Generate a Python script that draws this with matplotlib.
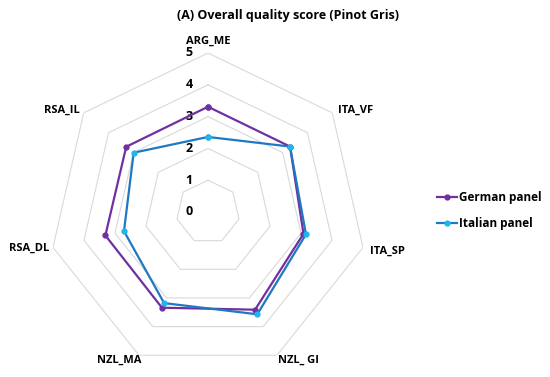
import numpy as np
import matplotlib
matplotlib.use("Agg")
import matplotlib.pyplot as plt
from matplotlib.transforms import ScaledTranslation

categories = ["ARG_ME", "ITA_VF", "ITA_SP", "NZL_ GI", "NZL_MA", "RSA_DL", "RSA_IL"]
german = [3.31, 3.30, 3.08, 3.41, 3.34, 3.31, 3.29]
italian = [2.36, 3.30, 3.16, 3.57, 3.18, 2.71, 2.99]
rticks = [0, 1, 2, 3, 4, 5]
title = "(A) Overall quality score (Pinot Gris)"

# label offsets (pixels) from the outer ring vertex
label_off = [(0, 12), (23, 3), (24, -4), (22, -5), (-20, -5), (-24, -1), (-22, 3)]

plt.rcParams['font.family'] = ['Open Sans', 'DejaVu Sans']

fig = plt.figure(figsize=(5.5, 3.77), dpi=100)
W, H = 550, 377
cx, cy, R = 208, 212, 159
ax = fig.add_axes([(cx - R) / W, (H - cy - R) / H, 2 * R / W, 2 * R / H], projection='polar')
ax.set_theta_offset(np.pi / 2)
ax.set_theta_direction(-1)
ax.set_ylim(0, 5)
ax.grid(False)
ax.spines['polar'].set_visible(False)
ax.set_yticks([])
ax.set_xticks([])

n = len(categories)
theta = np.arange(n) * 2 * np.pi / n
tc = np.append(theta, theta[0])

for r in rticks[1:]:
    ax.plot(tc, [r] * (n + 1), color='#D9D9D9', lw=0.8, zorder=1)

off = ScaledTranslation(-19 / 100, 0, fig.dpi_scale_trans)
for r in rticks:
    ax.text(0, r, str(r), transform=ax.transData + off, ha='center', va='center',
            fontsize=9, fontweight='bold', color='black')

for t, lab, (dx, dy) in zip(theta, categories, label_off):
    tr = ax.transData + ScaledTranslation(dx / 100, dy / 100, fig.dpi_scale_trans)
    ax.text(t, rticks[-1], lab, transform=tr, ha='center', va='center',
            fontsize=8, fontweight='bold', color='black', clip_on=False)

g = np.append(german, german[0])
it = np.append(italian, italian[0])
ax.plot(tc, g, color='#7030A0', lw=1.6, marker='o', ms=3.5, mfc='#7030A0', mec='#7030A0',
        label='German panel', zorder=3, clip_on=False)
ax.plot(tc, it, color='#1F78C1', lw=1.6, marker='o', ms=3.5, mfc='#1FB5EE', mec='#1FB5EE',
        label='Italian panel', zorder=4, clip_on=False)

fig.text(288 / W, 1 - 15 / H, title, ha='center', va='center', fontsize=9, fontweight='bold')

leg = fig.legend(loc='center left', bbox_to_anchor=(437 / W, 1 - 210.5 / H), frameon=False,
                 prop={'weight': 'bold', 'size': 8.5}, handlelength=1.7, handletextpad=0.2,
                 labelspacing=1.1, borderpad=0, borderaxespad=0)

fig.savefig('out.png', dpi=100)
